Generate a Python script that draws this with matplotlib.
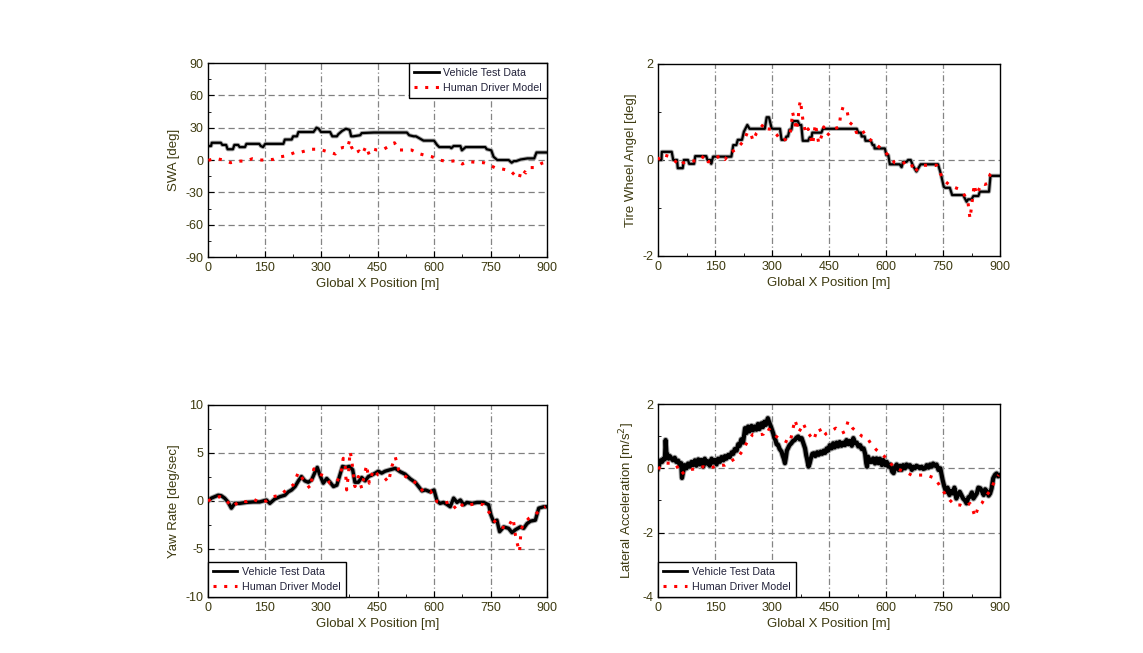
import numpy as np
import matplotlib.pyplot as plt
from matplotlib.ticker import MultipleLocator

plt.rcParams['font.family'] = ['Liberation Sans', 'DejaVu Sans']
plt.rcParams['axes.unicode_minus'] = False

TEXT_COLOR = '#3d3a10'

# ---- SWA (top left) ----
swa_test_x = [0, 8, 10, 34, 38, 48, 52, 66, 70, 80, 84, 98, 102, 136, 140, 146, 152, 200, 204, 222,
              226, 236, 240, 262, 280, 288, 294, 300, 324, 330, 342, 346, 356, 366, 376, 380, 386, 404,
              408, 440, 528, 534, 546, 552, 572, 576, 600, 608, 614, 642, 646, 652, 670, 674, 684, 736,
              740, 752, 758, 768, 798, 806, 812, 818, 830, 848, 866, 872, 878, 900]
swa_test_y = [13, 13, 16, 16, 14, 14, 10, 10, 14, 14, 12, 12, 15, 15, 13, 12, 15, 15, 19, 19,
              22, 22, 26, 26, 26, 30, 29, 26, 26, 22, 22, 24, 27, 29, 28, 22, 22, 23,
              25, 25.5, 25.5, 23, 22, 22, 18, 18, 18, 14, 12, 12, 11, 13, 13, 9, 12, 12,
              10, 9, 3, 0, 0, -2.5, -1, -1, 0.5, 1.5, 1.5, 7, 7, 7]
swa_model_x = [1, 19, 41, 60, 78, 99, 118, 136, 153, 173, 189, 210, 229, 243, 258, 273, 285, 299, 321,
               338, 352, 359, 370, 376, 380, 389, 401, 410, 419, 428, 440, 448, 463, 481, 495, 506,
               522, 540, 559, 580, 595, 614, 636, 659, 675, 688, 708, 732, 741, 761, 782, 803, 817,
               826, 832, 844, 853, 867, 886, 898]
swa_model_y = [-0.3, 1.5, 0, -2.5, -1, -1, 1.2, 0, 0, 0.6, 2.8, 4, 6.8, 7, 8.4, 10, 10, 9.6, 7.4,
               5.6, 11, 11.7, 11, 18.5, 12.7, 6.2, 8.4, 5.3, 12.7, 5, 10, 9.3, 9.3, 13, 16, 9.3,
               9.3, 9.3, 6, 4, 3, 0, -1.5, -0.6, -3.7, -1.5, -2, -2.5, -3.7, -7, -8.4, -10, -15,
               -17, -8.7, -12, -7, -7, -3, -2]

# ---- Tire wheel angle (top right) ----
twa_test_x = [0, 9, 10, 36, 40, 50, 52, 65, 68, 79, 82, 95, 98, 127, 130, 138, 140, 145, 193, 198,
              206, 210, 221, 226, 235, 241, 281, 286, 292, 299, 303, 321, 325, 334, 338, 342, 346,
              351, 355, 368, 372, 377, 381, 395, 399, 404, 406, 430, 434, 523, 527, 534, 536, 544,
              546, 560, 565, 569, 570, 597, 601, 606, 610, 636, 641, 645, 654, 658, 665, 671, 680,
              691, 737, 744, 752, 756, 768, 774, 803, 812, 816, 825, 830, 843, 847, 871, 875, 900]
twa_test_y = [0, 0, 0.17, 0.17, 0, 0, -0.17, -0.17, 0, 0, -0.08, -0.08, 0.08, 0.08, 0, 0, -0.08,
              0.07, 0.07, 0.31, 0.31, 0.42, 0.42, 0.59, 0.73, 0.65, 0.65, 0.89, 0.89, 0.66, 0.65,
              0.65, 0.42, 0.42, 0.49, 0.49, 0.63, 0.63, 0.81, 0.81, 0.73, 0.73, 0.40, 0.40, 0.47,
              0.47, 0.57, 0.57, 0.65, 0.65, 0.57, 0.57, 0.49, 0.49, 0.40, 0.40, 0.31, 0.31, 0.24,
              0.24, 0.10, 0.10, -0.09, -0.09, -0.15, -0.04, -0.04, 0, 0, -0.12, -0.24, -0.09, -0.09,
              -0.28, -0.56, -0.58, -0.58, -0.73, -0.73, -0.87, -0.82, -0.82, -0.75, -0.75, -0.66,
              -0.66, -0.33, -0.33]
twa_model_x = [0, 9, 27, 42, 57, 66, 81, 99, 112, 121, 132, 147, 164, 176, 187, 202, 210, 226, 235,
               243, 250, 259, 272, 278, 285, 299, 312, 325, 336, 347, 351, 354, 358, 364, 369, 371,
               375, 378, 382, 389, 395, 407, 414, 419, 423, 431, 436, 445, 461, 477, 480, 487, 498,
               503, 518, 522, 535, 549, 564, 579, 594, 610, 623, 641, 657, 667, 673, 693, 709, 733,
               744, 755, 770, 790, 803, 815, 821, 825, 832, 838, 852, 860, 867, 874, 887]
twa_model_y = [0, 0.12, 0.08, 0, -0.12, -0.06, -0.02, -0.02, -0.01, 0.1, -0.04, 0, 0.1, 0.01, 0.13,
               0.21, 0.26, 0.4, 0.57, 0.58, 0.4, 0.56, 0.69, 0.75, 0.65, 0.64, 0.53, 0.4, 0.43,
               0.53, 0.72, 1.0, 0.86, 0.62, 0.86, 1.1, 1.24, 1.03, 0.79, 0.55, 0.65, 0.32, 0.75,
               0.53, 0.34, 0.51, 0.69, 0.51, 0.64, 0.69, 0.91, 1.11, 1.0, 0.79, 0.69, 0.57, 0.65,
               0.48, 0.39, 0.29, 0.2, 0.06, -0.06, -0.08, -0.03, -0.08, -0.26, -0.11, -0.11, -0.11,
               -0.3, -0.44, -0.54, -0.6, -0.69, -0.84, -1.22, -0.98, -0.51, -0.72, -0.49, -0.51,
               -0.49, -0.3, -0.21]

# ---- Yaw rate (bottom left) ----
yaw_test_x = [0, 9, 18, 27, 35, 44, 53, 62, 71, 84,
              102, 120, 137, 155, 164, 177, 191, 204, 213, 222,
              231, 240, 248, 257, 266, 275, 284, 290, 297, 306,
              315, 324, 333, 342, 350, 357, 366, 375, 384, 390,
              399, 408, 417, 426, 435, 444, 452, 461, 470, 483,
              497, 510, 523, 537, 550, 559, 568, 577, 590, 600,
              608, 616, 625, 634, 643, 652, 661, 670, 679, 687,
              701, 714, 732, 745, 751, 758, 767, 774, 785, 798,
              807, 816, 829, 838, 847, 856, 869, 878, 891, 900]
yaw_test_y = [0, 0.3, 0.45, 0.6, 0.55, 0.3, -0.1, -0.75, -0.25, -0.25,
              -0.15, -0.1, -0.1, 0.1, -0.25, 0.2, 0.45, 0.6, 0.95, 1.15,
              1.5, 2.1, 2.55, 2.1, 1.95, 2.2, 3.0, 3.5, 2.7, 1.85,
              2.35, 1.95, 1.5, 1.65, 2.7, 3.6, 3.5, 3.6, 3.25, 1.95,
              1.95, 2.45, 2.1, 2.55, 2.7, 2.9, 3.1, 2.9, 3.1, 3.25,
              3.4, 3.05, 2.8, 2.3, 1.95, 1.5, 1.05, 1.15, 0.95, 1.15,
              0, -0.25, -0.15, -0.35, -0.6, 0.3, -0.15, 0.1, -0.4, -0.15,
              -0.25, -0.15, -0.15, -0.4, -1.45, -2.15, -2.0, -3.2, -2.7, -2.85,
              -3.3, -3.0, -2.7, -2.85, -2.35, -2.1, -2.0, -0.75, -0.6, -0.6]
yaw_model_x = [0, 13, 31, 49, 65, 84, 102, 120, 137, 155, 173, 191, 208, 226, 240, 253, 271, 281,
               295, 306, 324, 341, 352, 359, 364, 368, 373, 377, 381, 386, 390, 399, 408, 414, 421,
               428, 439, 452, 466, 479, 488, 497, 506, 519, 537, 554, 572, 590, 608, 625, 643, 661,
               679, 696, 714, 732, 748, 758, 776, 794, 810, 816, 822, 827, 831, 838, 852, 869, 887,
               896]
yaw_model_y = [0, 0.3, 0.45, 0, -0.6, 0, -0.07, 0.2, -0.14, 0, 0.45, 0.6, 1.15, 1.67, 3.0, 2.2, 1.3,
               3.35, 2.8, 2.65, 1.85, 1.95, 2.7, 4.45, 3.75, 1.15, 2.9, 5.15, 4.45, 2.7, 1.5, 2.55,
               1.3, 2.55, 3.75, 1.85, 3.25, 2.7, 2.55, 1.95, 3.6, 4.6, 3.25, 2.7, 2.2, 1.85, 0.95,
               1.05, -0.07, -0.25, -0.07, -0.95, -0.25, -0.4, -0.25, -0.4, -1.3, -2.0, -2.7, -2.85,
               -1.8, -3.55, -4.6, -5.3, -3.0, -2.35, -1.8, -1.4, -0.75, -0.6]

# ---- Lateral acceleration (bottom right) ----
acc_test_x = [0, 4, 7, 11, 14, 18, 20, 22, 25, 28, 31, 35, 39, 44, 48, 53, 57, 61, 63, 66,
              70, 75, 79, 84, 88, 92, 97, 101, 106, 110, 114, 119, 123, 128, 132, 136, 141, 145, 150,
              154, 158, 163, 167, 172, 176, 180, 185, 189, 194, 198, 202, 207, 211, 215, 219, 224,
              229, 233, 237, 241, 246, 250, 254, 259, 263, 267, 272, 276, 280, 284, 289, 292, 297,
              303, 306, 309, 312, 316, 320, 325, 328, 331, 334, 336, 339, 342, 346, 351, 355, 360,
              364, 369, 373, 378, 382, 387, 390, 392, 396, 399, 402,
              406, 410, 414, 419, 423, 428, 432, 436, 440, 444, 448, 452, 457, 461, 465, 470, 474,
              478, 483, 488,
              492, 496, 501, 505, 510, 514, 518, 523, 527, 532, 536, 541, 545, 548, 550, 553, 557,
              562, 566, 571, 575, 580, 584, 589, 593, 598, 602, 606, 611, 616, 620,
              624, 628, 633, 637, 641, 645, 650, 654, 659, 663, 668, 672, 676, 680, 685, 689, 694,
              698, 703, 707, 712, 716, 720, 724, 729, 733, 738, 743,
              749, 753, 758, 762, 767, 771, 776, 780, 785, 790, 794, 799, 803, 808, 812, 817, 821,
              826, 830, 835, 839, 843, 848, 852, 857, 861, 866, 870, 874, 878, 882, 887, 891, 895,
              900]
acc_test_y = [0, 0.15, 0.25, 0.2, 0.3, 0.28, 0.88, 0.5, 0.42, 0.3, 0.38, 0.31, 0.25, 0.33, 0.2,
              0.24, 0.1, 0.16, -0.3, -0.12,
              0.1, 0.0, 0.15, 0.05, 0.2, 0.1, 0.25, 0.08, 0.28, 0.12, 0.26, 0.05, 0.3, 0.15, 0.22,
              0.08, 0.3, 0.18, 0.26,
              0.12, 0.3, 0.2, 0.35, 0.25, 0.38, 0.3, 0.42, 0.35, 0.5, 0.45, 0.6, 0.55, 0.75, 0.7,
              0.9, 0.8,
              1.25, 1.1, 1.3, 1.15, 1.32, 1.18, 1.3, 1.2, 1.38, 1.22, 1.4, 1.28, 1.45, 1.35, 1.56,
              1.45, 1.3,
              1.09, 0.95, 0.88, 0.75, 0.73, 0.6, 0.52, 0.4, 0.3, 0.16, 0.3, 0.55, 0.62, 0.72, 0.78,
              0.85, 0.88, 0.95, 0.99, 0.9, 0.94, 0.8, 0.62, 0.4, 0.3, 0.05, 0.15, 0.3,
              0.45, 0.47, 0.38, 0.5, 0.42, 0.52, 0.45, 0.55, 0.48, 0.62, 0.55, 0.72, 0.62, 0.78,
              0.65, 0.8, 0.68, 0.82, 0.7, 0.8,
              0.72, 0.88, 0.75, 0.85, 0.7, 0.94, 0.78, 0.8, 0.68, 0.72, 0.6, 0.62, 0.45, 0.15, 0.05,
              0.36, 0.2,
              0.2, 0.31, 0.15, 0.31, 0.16, 0.3, 0.1, 0.26, 0.1, 0.2, 0.05, 0.12, -0.1, -0.15,
              0.05, 0.12, -0.05, 0.08, -0.05, 0.1, 0.0, 0.12, 0.05, 0.1, -0.05, 0.05, 0.0, 0.08,
              0.05, 0.0, 0.05, -0.02, 0.0, 0.1, 0.02, 0.12, 0.05, 0.15, 0.08, 0.12, -0.05, 0.0,
              -0.36, -0.55, -0.73, -0.6, -0.83, -0.7, -0.78, -0.6, -0.94, -0.8, -0.73, -0.85, -0.94,
              -1.0, -1.09, -0.9, -0.88, -0.75, -0.94, -0.85, -0.78, -0.6, -0.62, -0.7, -0.83, -0.65,
              -0.73, -0.85, -0.78, -0.62, -0.31, -0.2, -0.16, -0.25, -0.21]
acc_model_x = [0, 18, 35, 48, 61, 75, 97, 119, 136, 154, 176, 193, 211, 224, 237, 250, 263, 277,
               285, 294, 307, 316, 329, 338, 347, 354, 360, 366, 371, 378, 382, 392, 402, 410, 417,
               424, 435, 443, 452, 468, 483, 492, 500, 512, 527, 538, 551, 562, 575, 591, 606, 619,
               637, 650, 667, 685, 707, 729, 749, 760, 768, 781, 795, 808, 821, 830, 834, 843, 852,
               865, 875, 887, 896]
acc_model_y = [-0.02, 0.16, 0.16, 0.1, -0.19, -0.05, -0.02, 0.05, 0, 0.08, 0.1, 0.23, 0.36, 0.57,
               0.88, 1.06, 1.04, 1.06, 1.25, 1.2, 1.04, 0.94, 0.88, 0.83, 0.78, 1.16, 1.51, 1.3,
               1.14, 1.27, 1.4, 1.14, 0.99, 0.88, 1.14, 1.25, 0.99, 1.09, 1.14, 1.25, 1.09, 1.14,
               1.46, 1.25, 1.09, 0.99, 0.94, 0.73, 0.57, 0.42, 0.26, 0.05, -0.05, -0.1, -0.21,
               -0.21, -0.21, -0.31, -0.68, -0.88, -0.99, -1.14, -1.14, -1.2, -1.09, -1.35, -1.51,
               -1.2, -1.09, -0.83, -0.68, -0.36, -0.21]

x_ticks = [0, 150, 300, 450, 600, 750, 900]
legend_labels = ['Vehicle Test Data', 'Human Driver Model']

fig = plt.figure(figsize=(11.43, 6.53), dpi=100)

panels = [
    # rect, test x/y, model x/y, ylim, ylabel, major step, minor step, grid values, legend loc, lw
    ([0.182, 0.6064, 0.2966, 0.2971], swa_test_x, swa_test_y, swa_model_x, swa_model_y,
     (-90, 90), 'SWA [deg]', 30, 15, [60, 30, 0, -30, -60], 'upper right', 1.6),
    ([0.5757, 0.608, 0.2992, 0.294], twa_test_x, twa_test_y, twa_model_x, twa_model_y,
     (-2, 2), 'Tire Wheel Angel [deg]', 2, 1, [0], None, 1.6),
    ([0.182, 0.0858, 0.2966, 0.294], yaw_test_x, yaw_test_y, yaw_model_x, yaw_model_y,
     (-10, 10), 'Yaw Rate [deg/sec]', 5, 2.5, [5, 0, -5], 'lower left', 2.4),
    ([0.5757, 0.0858, 0.2992, 0.2955], acc_test_x, acc_test_y, acc_model_x, acc_model_y,
     (-4, 2), 'Lateral Acceleration [m/s$^2$]', 2, 1, [0, -2], 'lower left', 3.0),
]

for rect, tx, ty, mx, my, ylim, ylabel, major, minor, hgrid, loc, lw in panels:
    ax = fig.add_axes(rect)
    n = min(len(tx), len(ty))
    # grid lines
    for gx in x_ticks[1:-1]:
        ax.axvline(gx, color='#858585', lw=0.9, ls=(0, (5, 2, 1, 2)), zorder=0)
    for gy in hgrid:
        ax.axhline(gy, color='#808080', lw=0.9, ls=(0, (5, 3)), zorder=0)
    # test data with grey halo
    ax.plot(tx[:n], ty[:n], color='#a8a8a8', lw=lw + 1.4, zorder=2)
    line_t, = ax.plot(tx[:n], ty[:n], color='black', lw=lw, zorder=3)
    line_m, = ax.plot(mx, my, color='red', lw=2.2, ls=(0, (1, 2.5)), zorder=4)

    ax.set_xlim(0, 900)
    ax.set_ylim(*ylim)
    ax.set_xticks(x_ticks)
    ax.xaxis.set_minor_locator(MultipleLocator(75))
    ax.yaxis.set_major_locator(MultipleLocator(major))
    ax.yaxis.set_minor_locator(MultipleLocator(minor))
    ax.tick_params(which='both', direction='in', top=False, right=False,
                   labelsize=9, labelcolor=TEXT_COLOR, color='black')
    ax.tick_params(which='major', length=4)
    ax.tick_params(which='minor', length=2.5)
    ax.set_xlabel('Global X Position [m]', fontsize=9.5, color=TEXT_COLOR, labelpad=3)
    ax.set_ylabel(ylabel, fontsize=9.5, color=TEXT_COLOR, labelpad=4)
    for sp in ax.spines.values():
        sp.set_linewidth(1.0)

    if loc is not None:
        leg = ax.legend([line_t, line_m], legend_labels, loc=loc, fontsize=7.7,
                        frameon=True, fancybox=False, borderaxespad=0, handlelength=2.3,
                        borderpad=0.45, labelspacing=0.5, handletextpad=0.45)
        leg.get_frame().set_edgecolor('black')
        leg.get_frame().set_linewidth(1.0)
        leg.get_frame().set_alpha(1.0)
        leg.get_lines()[0].set_linewidth(2.0)
        for t in leg.get_texts():
            t.set_color('#22223a')

fig.savefig('out.png', dpi=100)
